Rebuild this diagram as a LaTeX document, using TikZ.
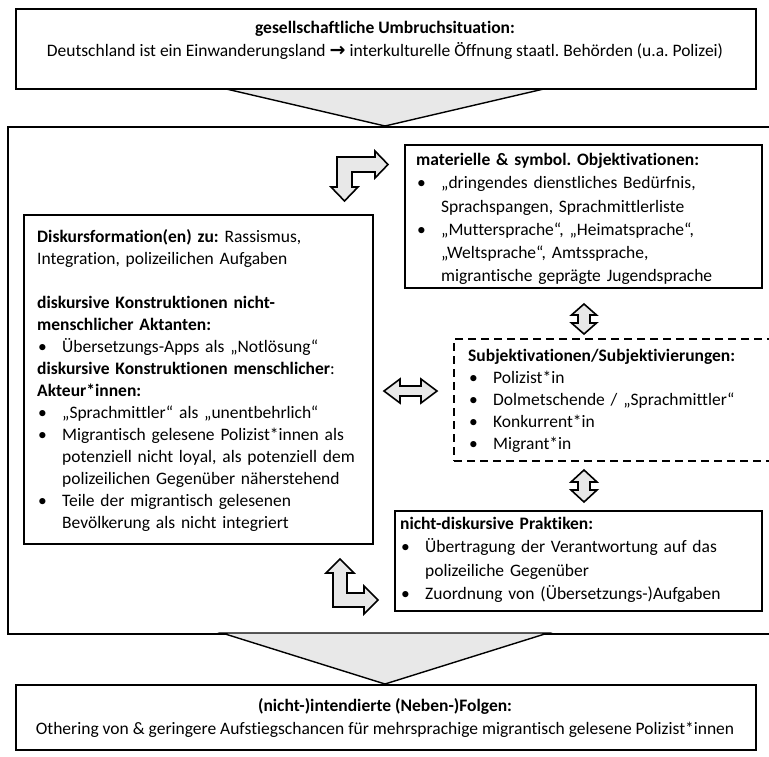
\documentclass[tikz,border=0pt]{standalone}
\usepackage{fontspec}
\setmainfont[Ligatures={NoCommon}]{Carlito}
\newfontfamily\dejavu{DejaVu Sans}
\frenchspacing
\newcommand\bitem[1]{\par\hangindent=25pt\hangafter=1\noindent\makebox[25pt][l]{\hspace{1pt}\textbullet}#1\par}
\newcommand\nl{\hfil\break}
\definecolor{lightfill}{HTML}{E8E8E8}
\tikzset{
  box/.style={draw=black, line width=1.6pt, fill=white, inner sep=0pt, anchor=north west},
  dbox/.style={box, dash pattern=on 8pt off 5pt, line width=2.2pt},
  txt/.style={anchor=north west, inner sep=0pt, align=left, text width=#1,
    font=\fontsize{17.5}{22}\selectfont\frenchspacing},
  ctxt/.style={anchor=north, inner sep=0pt, align=center,
    font=\fontsize{17.5}{23}\selectfont\frenchspacing},
  blockarrow/.style={draw=black, line width=1.6pt, fill=lightfill, line join=miter},
  tri/.style={draw=black, line width=1.4pt, fill=lightfill, line join=miter}
}
\begin{document}
\begin{tikzpicture}[x=1pt,y=-1pt]
\useasboundingbox (0,0) rectangle (769,756);
\clip (0,0) rectangle (769,756);
\fill[white] (0,0) rectangle (769,756);

% big middle box
\node[box, minimum width=800pt, minimum height=507pt] (mid) at (7,126) {};

% connector triangles
\coordinate (t1a) at (222,88);
\coordinate (t1b) at (548,88);
\coordinate (t1c) at (385,126);
\coordinate (t2a) at (222,633);
\coordinate (t2b) at (548,633);
\coordinate (t2c) at (385,684);
\draw[tri] (t1a) -- (t1c) -- (t1b) -- cycle;
\draw[tri] (t2a) -- (t2c) -- (t2b) -- cycle;

% top and bottom boxes
\node[box, minimum width=740pt, minimum height=80pt] (top) at (15,8) {};
\node[ctxt] (toptext) at (385,21) {\textbf{gesellschaftliche Umbruchsituation:}\\
Deutschland ist ein Einwanderungsland {\dejavu\bfseries\fontsize{19}{19}\selectfont →} interkulturelle Öffnung staatl. Behörden (u.a. Polizei)};

\node[box, minimum width=740pt, minimum height=65pt] (bot) at (15,684) {};
\node[ctxt] (bottext) at (385,698) {\textbf{(nicht-)intendierte (Neben-)Folgen:}\\
Othering von \& geringere Aufstiegschancen für mehrsprachige migrantisch gelesene Polizist*innen};

% left box
\node[box, minimum width=349pt, minimum height=329pt] (left) at (23,214) {};
\node[txt=340pt] (lefttext) at (37,229) {%
\textbf{Diskursformation(en) zu:} Rassismus,\nl
Integration, polizeilichen Aufgaben\par
\vspace{22pt}
\textbf{diskursive Konstruktionen nicht-}\nl
\textbf{menschlicher Aktanten:}
\bitem{Übersetzungs-Apps als „Notlösung“}
\textbf{diskursive Konstruktionen menschlicher}:\nl
\textbf{Akteur*innen:}
\bitem{„Sprachmittler“ als „unentbehrlich“}
\bitem{Migrantisch gelesene Polizist*innen als\nl potenziell nicht loyal, als potenziell dem\nl polizeilichen Gegenüber näherstehend}
\bitem{Teile der migrantisch gelesenen\nl Bevölkerung als nicht integriert}};

% materielle box
\node[box, minimum width=357pt, minimum height=143pt] (mat) at (404,144) {};
\node[txt=340pt, font=\fontsize{17.5}{23.3}\selectfont] (mattext) at (416,153) {%
\textbf{materielle \& symbol. Objektivationen:}
\bitem{„dringendes dienstliches Bedürfnis,\nl Sprachspangen, Sprachmittlerliste}
\bitem{„Muttersprache“, „Heimatsprache“,\nl „Weltsprache“, Amtssprache,\nl migrantische geprägte Jugendsprache}};

% dashed box
\node[dbox, minimum width=340pt, minimum height=122pt] (subj) at (453,338) {};
\node[txt=300pt] (subjtext) at (468,349) {%
\textbf{Subjektivationen/Subjektivierungen:}
\bitem{Polizist*in}
\bitem{Dolmetschende / „Sprachmittler“}
\bitem{Konkurrent*in}
\bitem{Migrant*in}};

% nicht-diskursive box
\node[box, minimum width=367pt, minimum height=100pt] (prak) at (394,510) {};
\node[txt=350pt, font=\fontsize{17.5}{23.3}\selectfont] (praktext) at (400,517) {%
\textbf{nicht-diskursive Praktiken:}
\bitem{Übertragung der Verantwortung auf das\nl polizeiliche Gegenüber}
\bitem{Zuordnung von (Übersetzungs-)Aufgaben}};

% vertical double arrows
\draw[blockarrow, shift={(584,319)}]
  (0,-15) -- (12.5,-4) -- (6,-4) -- (6,4) -- (12.5,4) -- (0,15)
  -- (-12.5,4) -- (-6,4) -- (-6,-4) -- (-12.5,-4) -- cycle;
\draw[blockarrow, shift={(584,486)}]
  (0,-16) -- (13,-4) -- (6,-4) -- (6,4) -- (13,4) -- (0,16)
  -- (-13,4) -- (-6,4) -- (-6,-4) -- (-13,-4) -- cycle;

% horizontal double arrow
\draw[blockarrow, shift={(410.5,391)}]
  (-26.5,0) -- (-10.5,-12) -- (-10.5,-5) -- (10.5,-5) -- (10.5,-12) -- (26.5,0)
  -- (10.5,12) -- (10.5,5) -- (-10.5,5) -- (-10.5,12) -- cycle;

% top L-arrow (down and right)
\draw[blockarrow]
  (337,157) -- (375,157) -- (375,151) -- (388,164.5) -- (375,178) -- (375,172)
  -- (352,172) -- (352,187) -- (358,187) -- (344.5,201) -- (331,187) -- (337,187) -- cycle;

% bottom L-arrow (up and right)
\draw[blockarrow]
  (340,559) -- (354,573) -- (347,573) -- (347,593) -- (364,593) -- (364,586)
  -- (378,600) -- (364,614) -- (364,607) -- (333,607) -- (333,573) -- (326,573) -- cycle;
\end{tikzpicture}
\end{document}
